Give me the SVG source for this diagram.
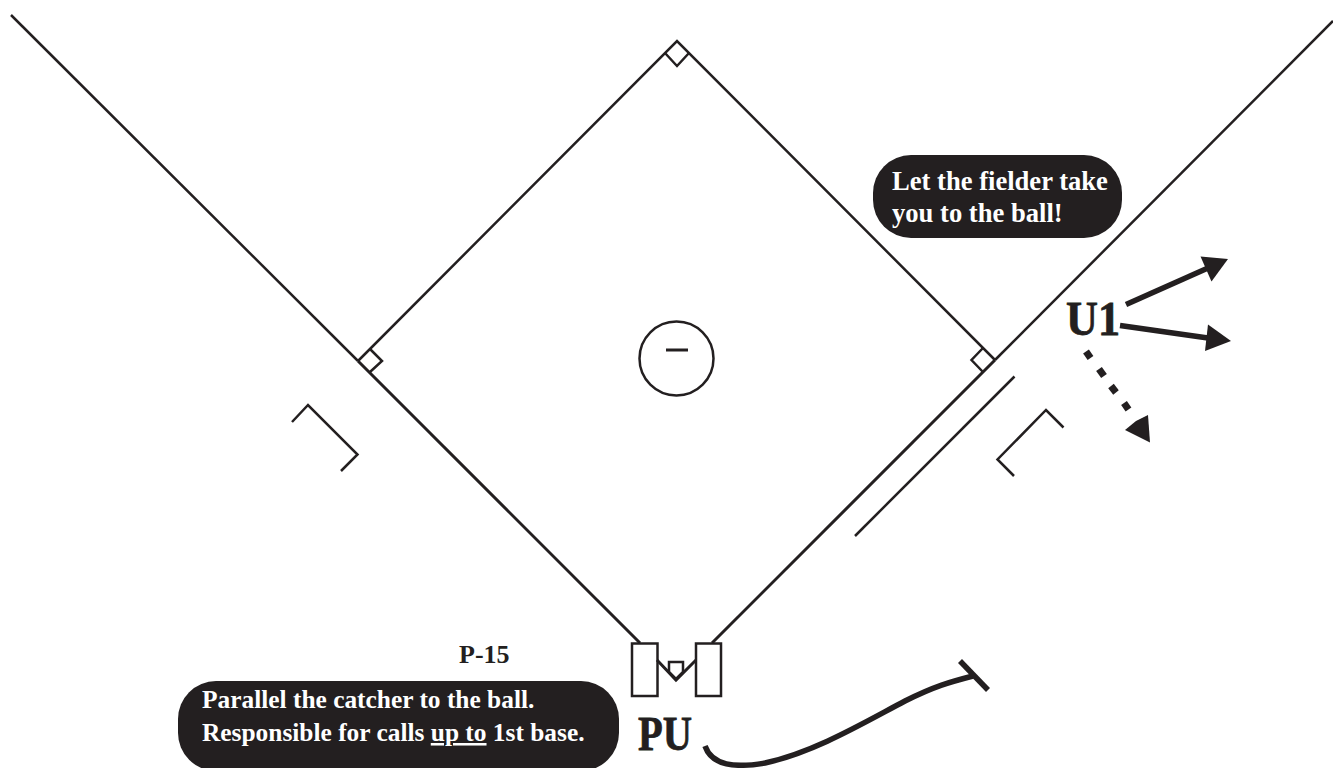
<svg xmlns="http://www.w3.org/2000/svg" width="1333" height="768" viewBox="0 0 1333 768">
<defs><style>
.l{fill:none;stroke:#231f20;stroke-width:2.500}
.t{fill:none;stroke:#231f20;stroke-width:3}
.a{fill:none;stroke:#231f20;stroke-width:5.500}
.h{fill:#231f20}
.b{fill:#231f20}
text{font-family:"Liberation Serif","Times New Roman",serif;font-weight:bold;fill:#231f20}
.w{fill:#fff;font-size:25.400px}
.w2{fill:#fff;font-size:26.600px}
.big{font-size:48px;stroke:#231f20;stroke-width:0.800}
</style></defs>
<rect width="1333" height="768" fill="#fff"/>
<g id="connectors">
<path class="l" d="M11 15L358 361"/>
<path class="t" d="M358 361L640 643"/>
<path class="l" d="M1333 21L995 360"/>
<path class="t" d="M995 360L712 643"/>
<path class="l" d="M358 361L677 41L995 360"/>
<path class="l" d="M1014.5 376.500L855 536"/>
<path class="l" d="M1063.500 427.500L1046 410L997.500 459.500L1014 476"/>
<path class="l" d="M292 422L308 405L357.500 454.500L341 471"/>
<path class="l" d="M370 349L382 361L370 372"/>
<path class="l" d="M665 53L677 66L689 53"/>
<path class="l" d="M983 348L971.500 360L983 372"/>
<path class="t" d="M657 660L676 680L696 660"/>
<path class="a" d="M705 746C712 766 735 768 765 763C815 752 865 722 905 701C935 686 950 682 973 676"/>
<path class="a" d="M960 661L988 690"/>
<path class="a" d="M1126 304.500L1208 268"/>
<polygon class="h" points="1228,259 1200.500,256.500 1211.500,281.500"/>
<path class="a" d="M1120 325.500L1208 338"/>
<polygon class="h" points="1231,341 1208,324.500 1205,351"/>
<g class="a" style="stroke-width:7">
<path d="M1086 351.500L1090.500 358"/>
<path d="M1099 369L1104 376"/>
<path d="M1111 386L1116 392.500"/>
<path d="M1124 403L1128.500 409.500"/>
</g>
<polygon class="h" points="1150,442.500 1125,430 1136,421 1148,415"/>
</g>
<g id="field">
<circle class="l" cx="676.500" cy="358.500" r="37"/>
<path class="l" style="stroke-width:3" d="M666 350H688"/>
</g>
<g id="home">
<rect class="l" x="632" y="643.500" width="25.500" height="52.500"/>
<rect class="l" x="696" y="643.500" width="25" height="52.500"/>
<polygon class="l" points="669,662 683,662 683,672 676,679 669,672"/>
</g>
<g id="callout-top">
<rect class="b" x="873" y="155" width="249" height="83" rx="38" ry="38"/>
<text class="w2" x="892" y="190">Let the fielder take</text>
<text class="w2" x="892" y="222">you to the ball!</text>
</g>
<g id="callout-bottom">
<rect class="b" x="178" y="681" width="441" height="90" rx="38" ry="38"/>
<text class="w" x="202" y="708">Parallel the catcher to the ball.</text>
<text class="w" x="202" y="741">Responsible for calls <tspan text-decoration="underline">up to</tspan> 1st base.</text>
</g>
<g id="P-15"><text x="459" y="663" style="font-size:26px">P-15</text></g>
<g id="PU"><text class="big" x="638" y="750" textLength="54" lengthAdjust="spacingAndGlyphs">PU</text></g>
<g id="U1"><text class="big" x="1066" y="335" textLength="54" lengthAdjust="spacingAndGlyphs">U1</text></g>
</svg>
